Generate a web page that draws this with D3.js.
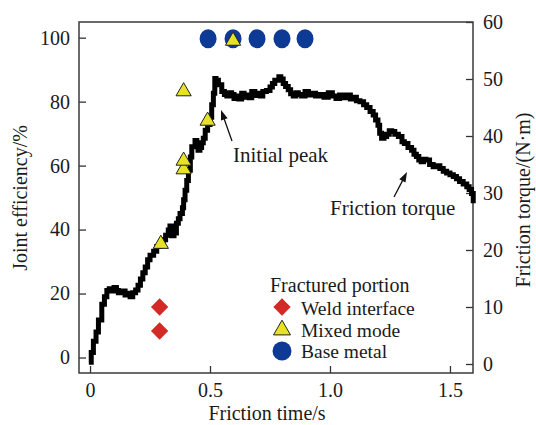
<!DOCTYPE html>
<html lang="en">
<head>
<meta charset="utf-8">
<script src="https://d3js.org/d3.v7.min.js"></script>
<style>
  body { margin: 0; background: #fff; }
</style>
</head>
<body>
<script>
var width = 536;
var height = 425;
var serif = "'Liberation Serif', 'Times New Roman', serif";

// friction torque curve (time in s, torque in N·m)
var frictionTime = [-0.005, 0.005, 0.014, 0.025, 0.035, 0.049, 0.06, 0.07, 0.08, 0.09, 0.1, 0.11, 0.118, 0.13, 0.146, 0.158, 0.167, 0.178, 0.19, 0.2,
  0.21, 0.22, 0.23, 0.24, 0.25, 0.265, 0.278, 0.29, 0.305, 0.315, 0.326, 0.333, 0.34, 0.35, 0.36, 0.368, 0.375, 0.385, 0.39, 0.396,
  0.403, 0.41, 0.418, 0.424, 0.4375, 0.445, 0.45, 0.458, 0.465, 0.472, 0.48, 0.49, 0.5, 0.507, 0.514, 0.52, 0.525, 0.535, 0.549, 0.56,
  0.57, 0.58, 0.59, 0.6, 0.61, 0.62, 0.632, 0.642, 0.653, 0.663, 0.674, 0.687, 0.70, 0.71, 0.72, 0.735, 0.75, 0.76, 0.77, 0.787,
  0.795, 0.805, 0.815, 0.826, 0.836, 0.847, 0.858, 0.868, 0.882, 0.896, 0.91, 0.924, 0.94, 0.958, 0.975, 0.993, 1.01, 1.025, 1.04, 1.055,
  1.07, 1.085, 1.097, 1.11, 1.125, 1.14, 1.153, 1.167, 1.18, 1.19, 1.2, 1.207, 1.215, 1.225, 1.236, 1.247, 1.257, 1.27, 1.285, 1.3,
  1.31, 1.325, 1.34, 1.35, 1.36, 1.37, 1.38, 1.39, 1.40, 1.415, 1.43, 1.445, 1.458, 1.472, 1.486, 1.5, 1.514, 1.527, 1.54, 1.555,
  1.57, 1.58, 1.59, 1.597];
var frictionTorque = [0.3, 2.0, 4.0, 5.6, 7.7, 10.5, 11.8, 12.9, 13.2, 12.8, 13.4, 12.9, 12.5, 12.8, 12.1, 12.4, 11.8, 12.5, 13.0, 13.8,
  14.9, 16.0, 17.0, 18.3, 19.1, 19.8, 20.6, 21.0, 21.8, 22.6, 23.5, 24.2, 22.5, 23.0, 24.7, 25.5, 26.4, 27.4, 28.8, 30.5,
  32.2, 34.0, 36.3, 38.1, 39.2, 38.4, 37.5, 38.0, 38.8, 39.6, 41.0, 42.0, 43.3, 45.5, 47.5, 50.1, 49.8, 49.0, 47.8, 47.3,
  47.0, 47.6, 47.3, 46.6, 47.0, 46.5, 47.5, 46.8, 47.2, 46.7, 47.8, 47.1, 47.5, 47.0, 47.8, 48.0, 48.6, 49.2, 49.8, 50.4,
  50.0, 49.2, 48.7, 48.1, 47.4, 47.0, 47.6, 47.3, 47.0, 47.8, 47.2, 47.5, 47.0, 47.3, 46.8, 47.6, 47.0, 46.6, 47.2, 46.7,
  47.2, 46.5, 46.8, 46.2, 46.0, 45.5, 45.0, 44.3, 43.7, 42.8, 41.9, 40.5, 39.6, 39.9, 40.3, 40.9, 40.8, 40.3, 39.9, 39.0,
  38.7, 38.0, 37.5, 36.8, 36.4, 35.8, 35.5, 35.9, 35.8, 35.0, 34.6, 34.8, 34.3, 33.8, 33.5, 33.2, 32.9, 32.5, 32.0, 31.6,
  31.1, 30.6, 29.9, 28.2];

// joint efficiency by fractured portion
var weldTime = [0.29, 0.29];
var weldEff = [15.8, 8.3];
var mixedTime = [0.295, 0.39, 0.39, 0.39, 0.49, 0.596];
var mixedEff = [35.5, 58.8, 61.5, 83.2, 74.0, 99.0];
var baseTime = [0.492, 0.596, 0.696, 0.8, 0.896];
var baseEff = [100, 100, 100, 100, 100];

var xTicks = [0, 0.5, 1.0, 1.5];
var leftTicks = [0, 20, 40, 60, 80, 100];
var rightTicks = [0, 10, 20, 30, 40, 50, 60];

var plotL = 79, plotR = 473, plotT = 22, plotB = 373;

var svg = d3.select("body").append("svg")
  .attr("width", width)
  .attr("height", height)
  .style("font-family", serif);

var x = d3.scaleLinear().domain([-0.046, 1.596]).range([plotL, plotR]);
var yL = d3.scaleLinear().domain([-4.84, 104.9]).range([plotB, plotT]);
var yR = d3.scaleLinear().domain([-1.58, 60]).range([plotB, plotT]);

// axes with inward ticks
var gx = svg.append("g").attr("transform", "translate(0," + plotB + ")")
  .call(d3.axisBottom(x).tickValues(xTicks).tickSizeInner(-7).tickSizeOuter(0).tickPadding(10)
    .tickFormat(function (d) { return d === 0 ? "0" : d3.format(".1f")(d); }));
var gl = svg.append("g").attr("transform", "translate(" + plotL + ",0)")
  .call(d3.axisLeft(yL).tickValues(leftTicks).tickSizeInner(-7).tickSizeOuter(0).tickPadding(9));
var gr = svg.append("g").attr("transform", "translate(" + plotR + ",0)")
  .call(d3.axisRight(yR).tickValues(rightTicks).tickSizeInner(-7).tickSizeOuter(0).tickPadding(10));

[gx, gl, gr].forEach(function (g) {
  g.attr("font-family", null).attr("font-size", null);
  g.select(".domain").remove();
  g.selectAll(".tick line").attr("stroke", "#333").attr("stroke-width", 1.3);
  g.selectAll(".tick text").style("font-family", serif).style("font-size", "20px").attr("fill", "#1a1a1a");
});

svg.append("rect")
  .attr("x", plotL).attr("y", plotT)
  .attr("width", plotR - plotL).attr("height", plotB - plotT)
  .attr("fill", "none").attr("stroke", "#3a3a3a").attr("stroke-width", 1.5);

// torque curve
var pts = frictionTime.map(function (t, i) { return [t, frictionTorque[i]]; });
svg.append("path")
  .datum(pts)
  .attr("d", d3.line().x(function (d) { return x(d[0]); }).y(function (d) { return yR(d[1]); }).curve(d3.curveStepAfter))
  .attr("fill", "none").attr("stroke", "#000").attr("stroke-width", 5)
  .attr("stroke-linejoin", "miter");

// markers
var diamond = d3.symbol().type(d3.symbolSquare).size(150);
var tri = d3.symbol().type(d3.symbolTriangle).size(100);
var triLegend = d3.symbol().type(d3.symbolTriangle).size(125);

svg.selectAll(".base").data(baseTime).enter().append("ellipse")
  .attr("cx", function (d) { return x(d); })
  .attr("cy", function (d, i) { return yL(baseEff[i]) + 1; })
  .attr("rx", 8.5).attr("ry", 9.5)
  .attr("fill", "#0d3a94");

svg.selectAll(".weld").data(weldTime).enter().append("path")
  .attr("d", diamond)
  .attr("transform", function (d, i) { return "translate(" + x(d) + "," + yL(weldEff[i]) + ") rotate(45)"; })
  .attr("fill", "#d22a26");

svg.selectAll(".mixed").data(mixedTime).enter().append("path")
  .attr("d", tri)
  .attr("transform", function (d, i) { return "translate(" + x(d) + "," + yL(mixedEff[i]) + ")"; })
  .attr("fill", "#e8e226").attr("stroke", "#222").attr("stroke-width", 1);

// annotations
function arrow(x1, y1, x2, y2) {
  var a = Math.atan2(y2 - y1, x2 - x1), L = 10, w = 3.5;
  svg.append("line").attr("x1", x1).attr("y1", y1)
    .attr("x2", x2 - Math.cos(a) * L * 0.8).attr("y2", y2 - Math.sin(a) * L * 0.8)
    .attr("stroke", "#111").attr("stroke-width", 1.3);
  var bx = x2 - Math.cos(a) * L, by = y2 - Math.sin(a) * L;
  svg.append("path")
    .attr("d", "M" + x2 + "," + y2 + "L" + (bx - Math.sin(a) * w) + "," + (by + Math.cos(a) * w) +
      "L" + (bx + Math.sin(a) * w) + "," + (by - Math.cos(a) * w) + "Z")
    .attr("fill", "#111");
}
function label(xp, yp, size, str) {
  return svg.append("text").attr("x", xp).attr("y", yp)
    .style("font-family", serif).style("font-size", size + "px").attr("fill", "#1a1a1a").text(str);
}
arrow(232, 141, 221, 110);
label(233, 162, 21, "Initial peak");
arrow(394, 197, 407, 172);
label(330, 215, 21, "Friction torque");

// legend
var lx = 282;
label(270, 292, 20, "Fractured portion");
svg.append("path").attr("d", diamond).attr("transform", "translate(" + lx + ",307) rotate(45)").attr("fill", "#d22a26");
svg.append("path").attr("d", triLegend).attr("transform", "translate(" + lx + ",330)")
  .attr("fill", "#e8e226").attr("stroke", "#222").attr("stroke-width", 1);
svg.append("ellipse").attr("cx", lx).attr("cy", 351).attr("rx", 9.5).attr("ry", 9.5).attr("fill", "#0d3a94");
var legendLabels = ["Weld interface", "Mixed mode", "Base metal"];
legendLabels.forEach(function (d, i) { label(301, 315 + i * 21.5, 19.5, d); });

// axis titles
label(267, 420, 20, "Friction time/s").attr("text-anchor", "middle");
label(0, 0, 20, "Joint efficiency/%").attr("text-anchor", "middle")
  .attr("transform", "translate(27,198) rotate(-90)");
label(0, 0, 20, "Friction torque/(N\u00b7m)").attr("text-anchor", "middle")
  .attr("transform", "translate(530,200) rotate(-90)");
</script>
</body>
</html>
